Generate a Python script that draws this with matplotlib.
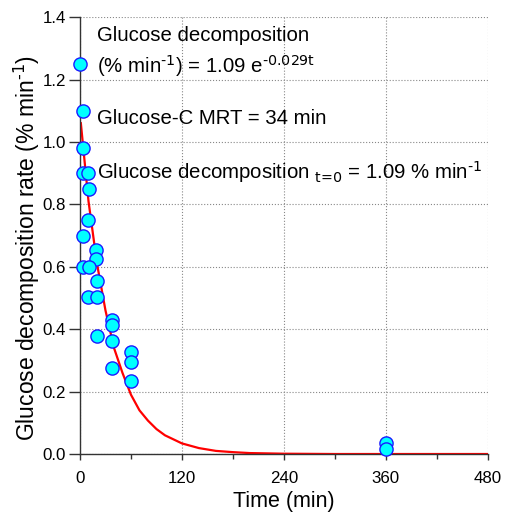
import matplotlib
matplotlib.use("Agg")
import matplotlib.pyplot as plt
from matplotlib.ticker import MultipleLocator

plt.rcParams['font.family'] = ['Liberation Sans', 'DejaVu Sans']
plt.rcParams['mathtext.default'] = 'regular'

# measured glucose decomposition rates (% min-1)
time_obs = [0, 4, 4, 3, 9, 10, 9, 4, 19, 19, 4, 10, 20, 9, 20, 20,
            38, 38, 38, 38, 60, 60, 60, 360, 360]
rate_obs = [1.25, 1.10, 0.98, 0.90, 0.90, 0.85, 0.75, 0.70, 0.654, 0.624,
            0.60, 0.60, 0.554, 0.502, 0.502, 0.378,
            0.429, 0.413, 0.363, 0.276, 0.326, 0.296, 0.235, 0.035, 0.016]

# fitted curve as drawn in the chart
time_fit = [1, 10, 20, 30, 40, 50, 60, 70, 80, 90, 100, 120, 140, 160, 180,
            200, 240, 300, 360, 420, 480]
rate_fit = [1.06, 0.81, 0.61, 0.46, 0.34, 0.26, 0.19, 0.14, 0.107, 0.08,
            0.06, 0.034, 0.019, 0.010, 0.006, 0.003, 0.001, 0.0, 0.0, 0.0, 0.0]

fig = plt.figure(figsize=(5.08, 5.14), dpi=100)
ax = fig.add_axes([0.1575, 0.1167, 0.8025, 0.85])

ax.plot(time_fit, rate_fit, color='red', lw=1.6, zorder=2)
ax.plot(time_obs, rate_obs, 'o', ms=9.5, mfc='#00FFFF', mec='#1a1aff',
        mew=1.0, clip_on=False, zorder=3)

ax.set_xlim(0, 480)
ax.set_ylim(0, 1.4)
ax.xaxis.set_major_locator(MultipleLocator(120))
ax.xaxis.set_minor_locator(MultipleLocator(60))
ax.yaxis.set_major_locator(MultipleLocator(0.2))
ax.yaxis.set_major_formatter(plt.FuncFormatter(lambda v, p: f"{v:.1f}"))

ax.grid(True, which='major', ls=':', color='#888888', lw=0.8)
ax.set_axisbelow(True)
for s in ['top', 'right']:
    ax.spines[s].set_visible(False)
for s in ['left', 'bottom']:
    ax.spines[s].set_color('#333333')
    ax.spines[s].set_linewidth(1.0)
ax.tick_params(which='major', direction='out', width=1,
               labelsize=12.2, color='#333333')
ax.tick_params(axis='x', which='major', length=4, pad=8)
ax.tick_params(axis='y', which='major', length=8, pad=2)
ax.tick_params(which='minor', direction='out', length=3.5, width=1,
               color='#333333')
ax.tick_params(axis='y', which='minor', left=False)

ax.set_xlabel('Time (min)', fontsize=15.5, labelpad=4)
ax.set_ylabel(r'Glucose decomposition rate (% min$^{\text{-1}}$)',
              fontsize=16.5)
ax.yaxis.set_label_coords(-0.093, 0.471)

fs = 14.7
ax.text(20, 1.342, 'Glucose decomposition', fontsize=fs, va='center')
ax.text(20, 1.243, r'(% min$^{\text{-1}}$) = 1.09 e$^{\text{-0.029t}}$',
        fontsize=fs, va='center')
ax.text(20, 1.076, 'Glucose-C MRT = 34 min', fontsize=fs, va='center')
ax.text(20, 0.903,
        r'Glucose decomposition $_{\text{t=0}}$ = 1.09 % min$^{\text{-1}}$',
        fontsize=fs, va='center')

fig.savefig('out.png', dpi=100)
